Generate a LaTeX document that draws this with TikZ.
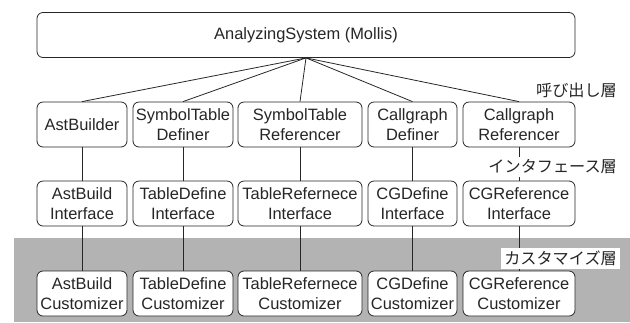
\documentclass[tikz,border=0pt]{standalone}
\usepackage{fontspec}
\setmainfont{Liberation Sans}
\newfontfamily\jpfont{Noto Sans CJK JP}
\usepackage{tikz}
\usetikzlibrary{
    positioning,
    calc
}
\usepackage{xcolor}
\definecolor{layergray}{RGB}{179, 179, 179}
\tikzstyle{unit} = [
    rectangle,
    rounded corners=6bp,
    draw=black!85,
    line width=0.8pt,
    fill=white,
    inner sep=0pt,
    minimum height=45bp,
    align=center,
    text=black!85,
    font=\fontsize{16.5}{20}\selectfont
]
\tikzstyle{layername} = [
    fill=white,
    inner sep=3bp,
    anchor=east,
    text=black!85,
    font=\jpfont\fontsize{16.2}{18}\selectfont
]
\tikzstyle{link} = [
    draw=black!85,
    line width=0.8pt
]

\begin{document}
\begin{tikzpicture}[x=1bp, y=-1bp]
        \useasboundingbox (0, 0) rectangle (630, 322);

        % Customize layer background
        \fill[layergray] (14, 238) rectangle (630, 322);

        % Analyzing system
        \node[unit, minimum width=538bp] (mollis) at (306, 35) {AnalyzingSystem (Mollis)};

        % Call layer
        \node[unit, minimum width=90bp] (astbuilder) at (82, 124.5) {AstBuilder};
        \node[unit, minimum width=100bp] (stdefiner) at (183, 124.5) {SymbolTable\\Definer};
        \node[unit, minimum width=124bp] (stref) at (300, 124.5) {SymbolTable\\Referencer};
        \node[unit, minimum width=89bp] (cgdefiner) at (412.5, 124.5) {Callgraph\\Definer};
        \node[unit, minimum width=112bp] (cgref) at (519, 124.5) {Callgraph\\Referencer};

        % Interface layer
        \node[unit, minimum width=90bp] (astif) at (82, 203.5) {AstBuild\\Interface};
        \node[unit, minimum width=100bp] (tdif) at (183, 203.5) {TableDefine\\Interface};
        \node[unit, minimum width=124bp] (trif) at (300, 203.5) {TableRefernece\\Interface};
        \node[unit, minimum width=89bp] (cgdif) at (412.5, 203.5) {CGDefine\\Interface};
        \node[unit, minimum width=112bp] (cgrif) at (519, 203.5) {CGReference\\Interface};

        % Customize layer
        \node[unit, minimum width=90bp] (astcust) at (82, 293.5) {AstBuild\\Customizer};
        \node[unit, minimum width=100bp] (tdcust) at (183, 293.5) {TableDefine\\Customizer};
        \node[unit, minimum width=124bp] (trcust) at (300, 293.5) {TableRefernece\\Customizer};
        \node[unit, minimum width=89bp] (cgdcust) at (412.5, 293.5) {CGDefine\\Customizer};
        \node[unit, minimum width=112bp] (cgrcust) at (519, 293.5) {CGReference\\Customizer};

        % Links
        \draw[link] (mollis.south) -- (astbuilder.north);
        \draw[link] (mollis.south) -- (stdefiner.north);
        \draw[link] (mollis.south) -- (stref.north);
        \draw[link] (mollis.south) -- (cgdefiner.north);
        \draw[link] (mollis.south) -- (cgref.north);
        \draw[link] (astbuilder) -- (astif);
        \draw[link] (stdefiner) -- (tdif);
        \draw[link] (stref) -- (trif);
        \draw[link] (cgdefiner) -- (cgdif);
        \draw[link] (cgref) -- (cgrif);
        \draw[link] (astif) -- (astcust);
        \draw[link] (tdif) -- (tdcust);
        \draw[link] (trif) -- (trcust);
        \draw[link] (cgdif) -- (cgdcust);
        \draw[link] (cgrif) -- (cgrcust);

        % Layer names
        \node[layername] (calllabel) at (620, 90) {呼び出し層};
        \node[layername] (iflabel) at (620, 167) {インタフェース層};
        \node[layername] (custlabel) at (620, 258.5) {カスタマイズ層};
    \end{tikzpicture}
\end{document}
